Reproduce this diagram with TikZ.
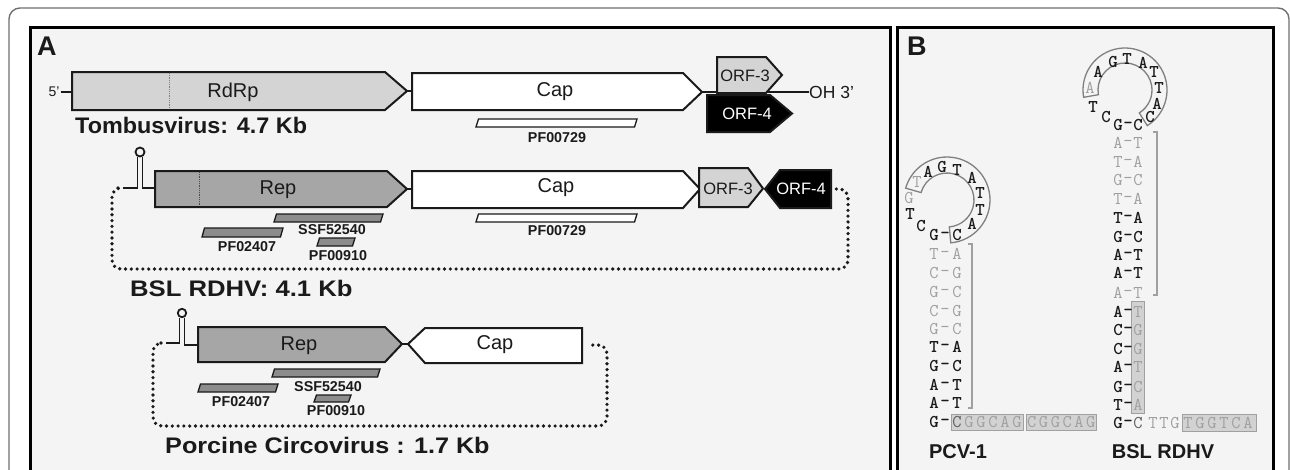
\documentclass[tikz,border=0pt]{standalone}
\usepackage{fontspec}
\setmainfont{Liberation Sans}
\definecolor{panelbg}{HTML}{F4F4F4}
\definecolor{lightgene}{HTML}{D4D4D4}
\definecolor{midgene}{HTML}{A6A6A6}
\definecolor{bargray}{HTML}{8C8C8C}
\definecolor{seqgray}{HTML}{A0A0A0}
\definecolor{seqdark}{HTML}{606060}
\definecolor{boxfill}{HTML}{D2D2D2}
\definecolor{boxedge}{HTML}{A0A0A0}
\definecolor{ringedge}{HTML}{808080}
\definecolor{framegray}{HTML}{707070}
\definecolor{ink}{HTML}{1A1A1A}
\newcommand\pfbar[5]{\draw[bar,fill=#5] ({#1+2.5},#3) -- (#2,#3) -- ({#2-2.5},#4) -- (#1,#4) -- cycle;}
\tikzset{
  gene/.style={draw=ink, line width=2pt, line join=miter},
  bar/.style={draw=ink, line width=1.3pt},
  dotline/.style={draw=ink, line width=3.6pt, dash pattern=on 0pt off 5.8pt, line cap=round},
  solidline/.style={draw=ink, line width=2pt},
  lbl/.style={inner sep=0pt, text=ink, font=\fontsize{20}{22}\selectfont},
  orf/.style={inner sep=0pt, text=ink, font=\fontsize{16.5}{18}\selectfont},
  pf/.style={inner sep=0pt, text=ink, font=\bfseries\fontsize{14.3}{16}\selectfont},
  ttl/.style={inner sep=0pt, anchor=west, text=ink, font=\bfseries\fontsize{22.5}{24}\selectfont, transform shape},
  panlbl/.style={inner sep=0pt, anchor=base west, text=ink, font=\bfseries\fontsize{27}{27}\selectfont},
  bs/.style={inner sep=0pt, text=ink, font=\ttfamily\bfseries\addfontfeature{FakeBold=1.2}\fontsize{18}{18}\selectfont},
  gs/.style={inner sep=0pt, text=seqgray, font=\ttfamily\fontsize{18}{18}\selectfont},
  ds/.style={inner sep=0pt, text=seqdark, font=\ttfamily\fontsize{18}{18}\selectfont},
  seqbox/.style={draw=boxedge, fill=boxfill, line width=1pt},
  brk/.style={draw=seqgray, line width=1.3pt},
  ring/.style={draw=ringedge, line width=1.3pt},
  stemsym/.style={draw=ink, line width=1.8pt},
}
\begin{document}
\begin{tikzpicture}[x=1pt,y=-1pt]
\clip (0,0) rectangle (1290,469);
\fill[white] (0,0) rectangle (1290,469);
\draw[framegray, line width=1.4pt, rounded corners=11pt] (9,500) -- (9,8) -- (1289,8) -- (1289,500);
\draw[line width=3pt, fill=panelbg] (30,27.5) rectangle (890,500);
\draw[line width=3pt, fill=panelbg] (897,27.5) rectangle (1273.5,500);
\node[panlbl] (labA) at (37,55) {A};
\node[panlbl] (labB) at (907,55) {B};

% ---------------- Row 1: Tombusvirus
\node[inner sep=0pt, text=ink, font=\fontsize{14}{16}\selectfont] (fiveP) at (54,92) {5’};
\coordinate (rdrpL) at (72,92);
\draw[solidline] (fiveP.east) ++(1,0) -- (rdrpL);
\draw[gene, fill=lightgene] (72,72) -- (385,72) -- (407,91) -- (385,110) -- (72,110) -- cycle;
\draw[gray, line width=0.8pt, densely dotted] (169,73) -- (169,109);
\node[lbl] (rdrp) at (233,92) {RdRp};
\coordinate (rdrpTip) at (407,91);
\coordinate (capAL) at (412,91);
\draw[solidline] (rdrpTip) -- (capAL);
\draw[gene, fill=white] (412,73) -- (683,73) -- (702,92) -- (683,110) -- (412,110) -- cycle;
\node[lbl] (capA) at (555,92) {Cap};
\coordinate (capATip) at (702,92);
\node[inner sep=0pt, anchor=west, text=ink, font=\fontsize{17.5}{19}\selectfont] (oh) at (809,92) {OH 3’};
\draw[solidline] (capATip) -- (oh.west);
\draw[gene, fill=black] (707,95) -- (770,95) -- (792,113.5) -- (770,132) -- (707,132) -- cycle;
\node[orf, text=white] (orf4a) at (747,114) {ORF-4};
\draw[gene, fill=lightgene] (717,57) -- (766,57) -- (782,75) -- (766,93) -- (717,93) -- cycle;
\node[orf] (orf3a) at (745,76) {ORF-3};
\pfbar{476}{637}{119}{127}{white}
\node[pf] (pfa729) at (557,138) {PF00729};
\node[ttl, xscale=1.04] (tomb) at (75,125) {Tombusvirus: 4.7 Kb};

% ---------------- Row 2: BSL RDHV
\draw[stemsym, fill=panelbg] (140,152) circle[radius=4.5pt];
\coordinate (hpB1) at (123,188);
\coordinate (hpB2) at (155,188);
\draw[stemsym] (hpB1) -- (137.5,188) -- (137.5,156.5);
\draw[stemsym] (142.5,156.5) -- (142.5,188) -- (hpB2);
\draw[gene, fill=midgene] (155,171) -- (387,171) -- (407,189) -- (387,207) -- (155,207) -- cycle;
\draw[gray!60!black, line width=0.8pt, densely dotted] (199,172) -- (199,206);
\node[lbl] (repB) at (278,190) {Rep};
\coordinate (repBTip) at (407,189);
\coordinate (capBL) at (412,189);
\draw[solidline] (repBTip) -- (capBL);
\draw[gene, fill=white] (412,171) -- (683,171) -- (700,189) -- (683,208) -- (412,208) -- cycle;
\node[lbl, fill=white] (capB) at (556,188) {Cap};
\draw[gene, fill=lightgene] (699,168) -- (748,168) -- (763,188.5) -- (748,207) -- (699,207) -- cycle;
\node[orf] (orf3b) at (728,189) {ORF-3};
\draw[gene, fill=black] (765,189) -- (780,170) -- (831,170) -- (831,208) -- (780,208) -- cycle;
\node[orf, text=white] (orf4b) at (801,189) {ORF-4};
\coordinate (orf4bR) at (835,189);
\draw[dotline, rounded corners=9pt] (hpB1) ++(-5,0) -- (112,188) -- (112,269) -- (848,269) -- (848,189) -- (orf4bR);
\pfbar{274}{383}{214}{222}{bargray}
\pfbar{202}{283}{228}{237}{bargray}
\pfbar{317}{355}{238}{246}{bargray}
\pfbar{476}{637}{214}{222}{white}
\node[pf] (ssfB) at (332,230) {SSF52540};
\node[pf] (pf2407B) at (247,247) {PF02407};
\node[pf] (pf910B) at (338,256) {PF00910};
\node[pf] (pf729B) at (557,231) {PF00729};
\node[ttl, xscale=1.14] (bsl) at (130,288) {BSL RDHV: 4.1 Kb};

% ---------------- Row 3: Porcine circovirus
\draw[stemsym, fill=panelbg] (182,313) circle[radius=4.2pt];
\coordinate (hpC1) at (166,343);
\coordinate (hpC2) at (198,345);
\draw[stemsym] (hpC1) -- (179.5,343) -- (179.5,317.5);
\draw[stemsym] (184.5,317.5) -- (184.5,345) -- (hpC2);
\draw[gene, fill=midgene] (198,327) -- (385,327) -- (402,344) -- (385,362) -- (198,362) -- cycle;
\node[lbl] (repC) at (299,346) {Rep};
\coordinate (repCTip) at (402,344);
\coordinate (capCTip) at (408,344);
\draw[solidline] (repCTip) -- (capCTip);
\draw[gene, fill=white] (408,344) -- (425,328) -- (582,328) -- (582,363) -- (425,363) -- cycle;
\node[lbl, fill=white] (capC) at (495,345) {Cap};
\coordinate (capCR) at (587,345);
\draw[dotline, rounded corners=9pt] (hpC1) ++(-5,0) -- (153,343) -- (153,426) -- (607,426) -- (607,345) -- (capCR);
\pfbar{272}{380}{369}{377}{bargray}
\pfbar{198}{278}{384}{392}{bargray}
\pfbar{314}{351}{395}{402}{bargray}
\node[pf] (ssfC) at (328,387) {SSF52540};
\node[pf] (pf2407C) at (241,402) {PF02407};
\node[pf] (pf910C) at (336,411) {PF00910};
\node[ttl, xscale=1.12] (pcv) at (165,445) {Porcine Circovirus : 1.7 Kb};

% ---------------- Panel B: PCV-1 stem-loop
\draw[ring] ({947+43*cos(-85)},{200-43*sin(-85)}) arc[start angle=-85, end angle=164, radius=43pt]
  -- ({947+27*cos(164)},{200-27*sin(164)}) arc[start angle=164, end angle=-85, radius=27pt] -- cycle;
\node[gs] (pl1) at (909,198) {G};
\node[gs] (pl2) at (917,182) {T};
\node[bs] (pl3) at (928,172) {A};
\node[bs] (pl4) at (942,167) {G};
\node[bs] (pl5) at (957,170) {T};
\node[bs] (pl6) at (972,178) {A};
\node[bs] (pl7) at (980,193) {T};
\node[bs] (pl8) at (980,210) {T};
\node[bs] (pl9) at (972,224) {A};
\node[bs] (pl10) at (910,214) {T};
\node[bs] (pl11) at (921,226) {C};
\foreach \y/\l/\r/\s in {235/G/C/bs, 254/T/A/gs, 273/C/G/gs, 292/G/C/gs, 311/C/G/gs, 329/G/C/gs, 347/T/A/bs, 366/G/C/bs, 385/A/T/bs, 403/A/T/bs} {
  \node[\s] (pcvL\y) at (934,\y) {\l};
  \node[\s] (pcvD\y) at (945,\y) {-};
  \node[\s] (pcvR\y) at (957,\y) {\r};
}
\draw[brk] (968,244) -- (972,244) -- (972,408) -- (968,408);
\draw[seqbox] (951,414) rectangle (1023,430);
\draw[seqbox] (1026,414) rectangle (1096,430);
\node[bs] (pcvLb) at (934,422) {G};
\node[bs] (pcvDb) at (945,422) {-};
\node[ds] (pcvRb) at (957,422) {C};
\foreach \c [count=\i] in {G,G,C,A,G} {\node[gs] (pa\i) at ({957+\i*12},422) {\c};}
\foreach \c [count=\i] in {C,G,G,C,A,G} {\node[gs] (pb\i) at ({1020+\i*11.8},422) {\c};}
\node[inner sep=0pt, text=ink, font=\bfseries\fontsize{20}{22}\selectfont] (pcvlab) at (958,452) {PCV-1};

% ---------------- Panel B: BSL RDHV stem-loop
\draw[ring] ({1125+42*cos(-58)},{90-42*sin(-58)}) arc[start angle=-58, end angle=190, radius=42pt]
  -- ({1125+27*cos(190)},{90-27*sin(190)}) arc[start angle=190, end angle=-58, radius=27pt] -- cycle;
\node[gs] (bl1) at (1090,88) {A};
\node[bs] (bl2) at (1098,72) {A};
\node[bs] (bl3) at (1113,62) {G};
\node[bs] (bl4) at (1127,59) {T};
\node[bs] (bl5) at (1143,63) {A};
\node[bs] (bl6) at (1154,72) {T};
\node[bs] (bl7) at (1159,88) {T};
\node[bs] (bl8) at (1157,104) {A};
\node[bs] (bl9) at (1150,117) {C};
\node[bs] (bl10) at (1093,107) {T};
\node[bs] (bl11) at (1106,117) {C};
\draw[seqbox] (1131,301) rectangle (1144,413);
\foreach \y/\l/\r/\s in {125/G/C/bs, 143/A/T/gs, 162/T/A/gs, 180/G/C/gs, 199/T/A/gs, 218/T/A/bs, 237/G/C/bs, 255/A/T/bs, 273/A/T/bs, 293/A/T/gs} {
  \node[\s] (bsL\y) at (1118,\y) {\l};
  \node[\s] (bsD\y) at (1128,\y) {-};
  \node[\s] (bsR\y) at (1138,\y) {\r};
}
\foreach \y/\l/\r/\s in {312/A/T/bs, 330/C/G/bs, 349/C/G/bs, 367/A/T/bs, 387/G/C/bs, 405/T/A/bs} {
  \node[\s] (bsL\y) at (1118,\y) {\l};
  \node[\s] (bsD\y) at (1128,\y) {-};
  \node[gs] (bsR\y) at (1138,\y) {\r};
}
\draw[brk] (1153,132) -- (1157,132) -- (1157,295) -- (1153,295);
\draw[seqbox] (1182,414) rectangle (1256,431);
\node[bs] (bsLb) at (1118,423) {G};
\node[bs] (bsDb) at (1128,423) {-};
\node[ds] (bsRb) at (1138,423) {C};
\foreach \c [count=\i] in {T,T,G} {\node[gs] (bt\i) at ({1142+\i*11},423) {\c};}
\foreach \c [count=\i] in {T,G,G,T,C,A} {\node[gs] (bb\i) at ({1176+\i*12},423) {\c};}
\node[inner sep=0pt, text=ink, font=\bfseries\fontsize{20}{22}\selectfont] (bsllab) at (1163,452) {BSL RDHV};
\end{tikzpicture}
\end{document}
